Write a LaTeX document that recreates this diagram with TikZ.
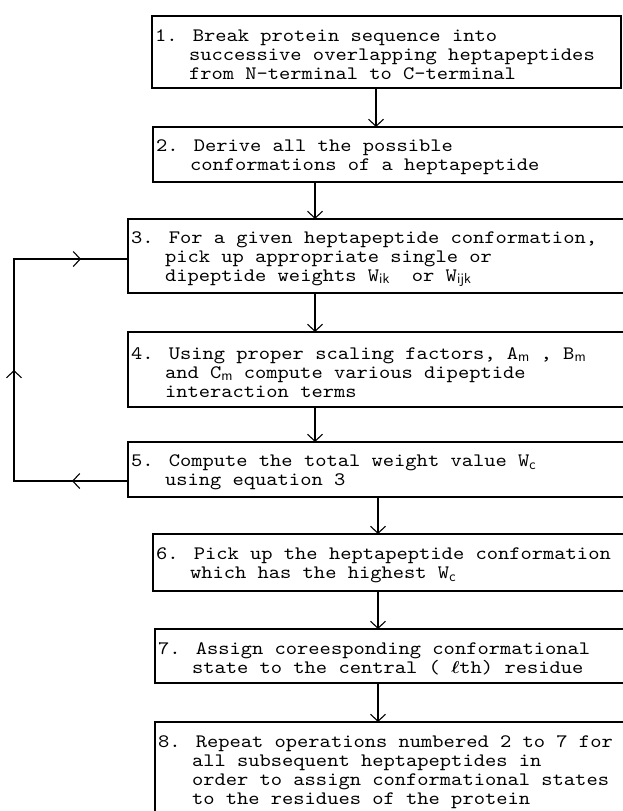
\documentclass[tikz,border=0pt]{standalone}
\usepackage{fontspec}
\usepackage{amsmath}
\usetikzlibrary{arrows.meta,decorations.markings}

% widened typewriter face for the step texts
\newfontfamily\typewriter[FakeStretch=1.13]{lmmono10-regular.otf}
% lowered small subscript, set in sans like a hand-lettered index
\newcommand{\lo}[1]{\raisebox{-0.3ex}{\sffamily\fontsize{14.5}{14.5}\selectfont #1}}
% hanging indent of three monospaced characters
\newcommand{\ind}{\hphantom{0.\ }}
\newcommand{\boxfont}{\typewriter\fontsize{19}{19}\selectfont}

\tikzset{
  stepbox/.style={draw, line width=1.1pt, rectangle, anchor=north west,
    inner sep=0pt, outer sep=0pt},
  steptext/.style={anchor=west, align=left, inner sep=0pt, font=\boxfont},
  flow/.style={line width=1.1pt,
    -{Straight Barb[length=7pt,width=15pt,line width=1.1pt]}},
  looptip/.tip={Straight Barb[length=7pt,width=15pt,line width=1.1pt]}
}

\begin{document}
\begin{tikzpicture}[x=1pt,y=-1pt]
\useasboundingbox (0,0) rectangle (623,811);
\clip (0,0) rectangle (623,811);

% frames of the process steps
\node[stepbox, minimum width=469pt, minimum height=72pt] (b1) at (152,16) {};
\node[stepbox, minimum width=480pt, minimum height=55pt] (b2) at (153,127) {};
\node[stepbox, minimum width=505pt, minimum height=74pt] (b3) at (128,219) {};
\node[stepbox, minimum width=505pt, minimum height=75pt] (b4) at (128,332) {};
\node[stepbox, minimum width=505pt, minimum height=55pt] (b5) at (128,442) {};
\node[stepbox, minimum width=480pt, minimum height=57pt] (b6) at (153,534) {};
\node[stepbox, minimum width=478pt, minimum height=54pt] (b7) at (155,629) {};
\node[stepbox, minimum width=478pt, minimum height=94pt] (b8) at (155,722) {};

% texts of the process steps
\node[steptext] (t1) at ([shift={(3,3)}]b1.west)
  {1. Break protein sequence into\\
   \ind successive overlapping heptapeptides\\
   \ind from N-terminal to C-terminal};
\node[steptext] (t2) at ([shift={(3,3)}]b2.west)
  {2. Derive all the possible\\
   \ind conformations of a heptapeptide};
\node[steptext] (t3) at ([shift={(3,3)}]b3.west)
  {3. For a given heptapeptide conformation,\\
   \ind pick up appropriate single or\\
   \ind dipeptide weights W\lo{ik}\ \ or W\lo{ijk}};
\node[steptext] (t4) at ([shift={(3,3)}]b4.west)
  {4. Using proper scaling factors, A\lo{m} , B\lo{m}\\
   \ind and C\lo{m}\ compute various dipeptide\\
   \ind interaction terms};
\node[steptext] (t5) at ([shift={(3,3)}]b5.west)
  {5. Compute the total weight value W\lo{c}\\
   \ind using equation 3};
\node[steptext] (t6) at ([shift={(3,3)}]b6.west)
  {6. Pick up the heptapeptide conformation\\
   \ind which has the highest W\lo{c}};
\node[steptext] (t7) at ([shift={(3,3)}]b7.west)
  {7. Assign coreesponding conformational\\
   \ind state to the central ( $\boldsymbol{\ell}$th) residue};
\node[steptext] (t8) at ([shift={(3,3)}]b8.west)
  {8. Repeat operations numbered 2 to 7 for\\
   \ind all subsequent heptapeptides in\\
   \ind order to assign conformational states\\
   \ind to the residues of the protein};

% columns of the downward connectors
\coordinate (xa) at (376,0);
\coordinate (xb) at (315,0);
\coordinate (xc) at (378,0);

\draw[flow] (xa |- b1.south) -- (xa |- b2.north);
\draw[flow] (xb |- b2.south) -- (xb |- b3.north);
\draw[flow] (xb |- b3.south) -- (xb |- b4.north);
\draw[flow] (xb |- b4.south) -- (xb |- b5.north);
\draw[flow] (xc |- b5.south) -- (xc |- b6.north);
\draw[flow] (xc |- b6.south) -- (xc |- b7.north);
\draw[flow] (xc |- b7.south) -- (xc |- b8.north);

% feedback loop from step 5 back to step 3
\coordinate (lb) at (14,481);
\coordinate (lt) at (14,259);
\draw[line width=1.1pt, postaction={decorate}, decoration={markings,
    mark=at position 56pt with {\arrow{looptip}},
    mark=at position 225pt with {\arrow{looptip}},
    mark=at position 403pt with {\arrow{looptip}}}]
  (lb -| b5.west) -- (lb) -- (lt) -- (lt -| b3.west);
\end{tikzpicture}
\end{document}
